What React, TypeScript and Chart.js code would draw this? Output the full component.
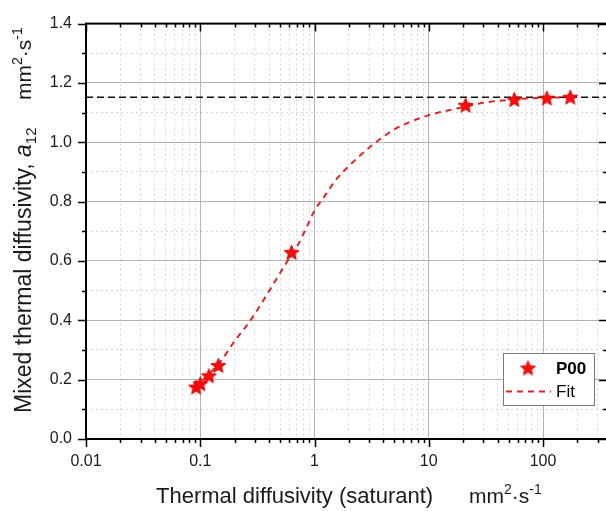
import React, { useEffect, useRef } from 'react';
import { Chart, registerables } from 'chart.js';

Chart.register(...registerables);

// ---------- data ----------
const P00_X = [0.092, 0.1, 0.119, 0.144, 0.63, 21, 56, 108, 173];
const P00_Y = [0.175, 0.186, 0.213, 0.248, 0.629, 1.125, 1.144, 1.149, 1.152];

const FIT_X = [0.09, 0.1, 0.12, 0.15, 0.2, 0.27, 0.41, 0.57, 0.7, 0.88, 1.0, 1.2, 1.5, 2.05, 3.2, 5.1, 9.6, 15, 21, 30, 50, 77, 132, 175];
const FIT_Y = [0.17, 0.19, 0.22, 0.26, 0.33, 0.395, 0.505, 0.595, 0.647, 0.725, 0.77, 0.813, 0.868, 0.924, 0.99, 1.045, 1.089, 1.108, 1.12, 1.133, 1.143, 1.148, 1.151, 1.152];

const ASYMPTOTE_Y = 1.152;

const X_MIN = 0.01;
const X_MAX = 363;
const Y_MIN = 0;
const Y_MAX = 1.4;

const X_TICKS = [
  0.01, 0.02, 0.03, 0.04, 0.05, 0.06, 0.07, 0.08, 0.09,
  0.1, 0.2, 0.3, 0.4, 0.5, 0.6, 0.7, 0.8, 0.9,
  1, 2, 3, 4, 5, 6, 7, 8, 9,
  10, 20, 30, 40, 50, 60, 70, 80, 90,
  100, 200, 300,
];
const X_TICK_LABELS = ['0.01', '0.1', '1', '10', '100'];
const Y_TICKS = [0, 0.1, 0.2, 0.3, 0.4, 0.5, 0.6, 0.7, 0.8, 0.9, 1.0, 1.1, 1.2, 1.3, 1.4];
const Y_TICK_LABELS = ['0.0', '0.2', '0.4', '0.6', '0.8', '1.0', '1.2', '1.4'];

const SERIES_LABEL = 'P00';
const FIT_LABEL = 'Fit';

// ---------- styles ----------
const FONT = '"Liberation Sans", Arial, sans-serif';
const TEXT = '#1a1a1a';
const RED = '#ff0a0a';
const FIT_RED = '#d8262b';

const isDecade = (v: number | undefined) =>
  v !== undefined && Math.abs(Math.log10(v) - Math.round(Math.log10(v))) < 1e-6;
const isMajorY = (v: number | undefined) =>
  v !== undefined && Y_TICK_LABELS.some((l) => Math.abs(parseFloat(l) - v) < 1e-6);

function makeStar(size: number): HTMLCanvasElement {
  const c = document.createElement('canvas');
  c.width = size;
  c.height = size;
  const g = c.getContext('2d')!;
  const cx = size / 2;
  const cy = size / 2 + 0.6;
  const R = size / 2 - 0.6;
  const r = R * 0.45;
  g.beginPath();
  for (let i = 0; i < 10; i++) {
    const ang = -Math.PI / 2 + (i * Math.PI) / 5;
    const rad = i % 2 === 0 ? R : r;
    const px = cx + rad * Math.cos(ang);
    const py = cy + rad * Math.sin(ang);
    if (i === 0) g.moveTo(px, py);
    else g.lineTo(px, py);
  }
  g.closePath();
  g.fillStyle = RED;
  g.fill();
  g.lineWidth = 0.8;
  g.strokeStyle = '#c00000';
  g.stroke();
  return c;
}

type Seg = { t: string; font: string; dy?: number };
function drawRich(ctx: CanvasRenderingContext2D, segs: Seg[], x: number, y: number) {
  let cx = x;
  for (const s of segs) {
    ctx.font = s.font;
    ctx.fillText(s.t, cx, y + (s.dy || 0));
    cx += ctx.measureText(s.t).width;
  }
}

export default function App() {
  const ref = useRef<HTMLCanvasElement>(null);

  useEffect(() => {
    document.body.style.margin = '0';
    const canvas = ref.current;
    if (!canvas) return;
    const star = makeStar(17);

    const U = `21px ${FONT}`;
    const US = `14px ${FONT}`;
    const unitSegs: Seg[] = [
      { t: 'mm', font: U },
      { t: '2', font: US, dy: -9 },
      { t: '·s', font: U },
      { t: '-1', font: US, dy: -9 },
    ];

    const decor = {
      id: 'decor',
      afterDraw(chart: any) {
        const ctx: CanvasRenderingContext2D = chart.ctx;
        const { left, right, top, bottom } = chart.chartArea;
        const xs = chart.scales.x;
        const ys = chart.scales.y;
        ctx.save();
        // frame
        ctx.strokeStyle = '#000';
        ctx.lineWidth = 2;
        ctx.strokeRect(left, top, right - left, bottom - top);
        // ticks
        ctx.lineWidth = 1.5;
        ctx.beginPath();
        for (const v of X_TICKS) {
          const px = Math.round(xs.getPixelForValue(v)) + 0.5;
          const len = isDecade(v) ? 8 : 4;
          ctx.moveTo(px, bottom);
          ctx.lineTo(px, bottom + len);
          ctx.moveTo(px, top);
          ctx.lineTo(px, top + len);
        }
        for (const v of Y_TICKS) {
          const py = Math.round(ys.getPixelForValue(v)) + 0.5;
          const len = isMajorY(v) ? 8 : 4;
          ctx.moveTo(left - len, py);
          ctx.lineTo(left, py);
          ctx.moveTo(right - len, py);
          ctx.lineTo(right, py);
        }
        ctx.stroke();

        // axis titles
        ctx.fillStyle = TEXT;
        ctx.textBaseline = 'alphabetic';
        ctx.textAlign = 'left';
        drawRich(ctx, [{ t: 'Thermal diffusivity (saturant)', font: `22px ${FONT}` }], 156, 503);
        drawRich(ctx, unitSegs, 469, 503);

        ctx.save();
        ctx.translate(31, 413);
        ctx.rotate(-Math.PI / 2);
        drawRich(ctx, [
          { t: 'Mixed thermal diffusivity, ', font: `23px ${FONT}` },
          { t: 'a', font: `italic 23px ${FONT}` },
          { t: '12', font: `15px ${FONT}`, dy: 5 },
        ], 0, 0);
        ctx.restore();
        ctx.save();
        ctx.translate(31, 100);
        ctx.rotate(-Math.PI / 2);
        drawRich(ctx, unitSegs, 0, 0);
        ctx.restore();

        // legend
        const lx = 503, ly = 353, lw = 91, lh = 52;
        ctx.fillStyle = '#ffffff';
        ctx.fillRect(lx, ly, lw, lh);
        ctx.strokeStyle = '#7a7a7a';
        ctx.lineWidth = 1;
        ctx.strokeRect(lx + 0.5, ly + 0.5, lw, lh);
        ctx.drawImage(star, 528 - star.width / 2, 368 - star.height / 2);
        ctx.fillStyle = '#000';
        ctx.textBaseline = 'middle';
        ctx.font = `bold 17px ${FONT}`;
        ctx.fillText(SERIES_LABEL, 556, 369);
        ctx.font = `17px ${FONT}`;
        ctx.fillText(FIT_LABEL, 556, 392);
        ctx.strokeStyle = FIT_RED;
        ctx.lineWidth = 2;
        ctx.setLineDash([6, 5]);
        ctx.beginPath();
        ctx.moveTo(506, 391.5);
        ctx.lineTo(551, 391.5);
        ctx.stroke();
        ctx.setLineDash([]);
        ctx.restore();
      },
    };

    const chart = new Chart(canvas, {
      type: 'scatter',
      data: {
        datasets: [
          {
            label: SERIES_LABEL,
            data: P00_X.map((x, i) => ({ x, y: P00_Y[i] })),
            pointStyle: star as any,
            pointRadius: 8,
            pointHoverRadius: 8,
            showLine: false,
            backgroundColor: RED,
            borderColor: RED,
          },
          {
            label: FIT_LABEL,
            data: FIT_X.map((x, i) => ({ x, y: FIT_Y[i] })),
            showLine: true,
            borderColor: FIT_RED,
            borderWidth: 2,
            borderDash: [6, 5],
            pointRadius: 0,
            cubicInterpolationMode: 'monotone',
            fill: false,
          },
          {
            label: 'asymptote',
            data: [{ x: X_MIN, y: ASYMPTOTE_Y }, { x: X_MAX, y: ASYMPTOTE_Y }],
            showLine: true,
            borderColor: '#111',
            borderWidth: 1.5,
            borderDash: [7, 4],
            pointRadius: 0,
            fill: false,
          },
        ],
      },
      options: {
        animation: false,
        responsive: false,
        devicePixelRatio: 1,
        layout: { padding: { left: 0, right: 13, top: 16, bottom: 0 } },
        plugins: { legend: { display: false }, tooltip: { enabled: false } },
        scales: {
          x: {
            type: 'logarithmic',
            min: X_MIN,
            max: X_MAX,
            afterBuildTicks: (scale: any) => {
              scale.ticks = X_TICKS.map((v) => ({ value: v, major: isDecade(v) }));
            },
            afterFit: (scale: any) => {
              scale.height = 72;
            },
            ticks: {
              autoSkip: false,
              maxRotation: 0,
              minRotation: 0,
              padding: 13,
              color: TEXT,
              font: { family: FONT, size: 16 },
              callback: (value: any) => {
                const v = Number(value);
                const l = X_TICK_LABELS.find((s) => Math.abs(Math.log10(parseFloat(s)) - Math.log10(v)) < 1e-6);
                return l ?? '';
              },
            },
            grid: {
              drawTicks: false,
              lineWidth: 1,
              color: (ctx: any) => (isDecade(ctx.tick?.value) ? '#b3b3b3' : '#d6d6d6'),
            },
            border: {
              display: false,
              dash: (ctx: any) => (ctx.tick && !isDecade(ctx.tick.value) ? [2, 3] : []),
            },
          },
          y: {
            type: 'linear',
            min: Y_MIN,
            max: Y_MAX,
            afterBuildTicks: (scale: any) => {
              scale.ticks = Y_TICKS.map((v) => ({ value: v }));
            },
            afterFit: (scale: any) => {
              scale.width = 86;
            },
            ticks: {
              autoSkip: false,
              padding: 14,
              color: TEXT,
              font: { family: FONT, size: 16 },
              callback: (value: any) => {
                const v = Number(value);
                const l = Y_TICK_LABELS.find((s) => Math.abs(parseFloat(s) - v) < 1e-6);
                return l ?? '';
              },
            },
            grid: {
              drawTicks: false,
              lineWidth: 1,
              color: (ctx: any) => (isMajorY(ctx.tick?.value) ? '#b3b3b3' : '#d6d6d6'),
            },
            border: {
              display: false,
              dash: (ctx: any) => (ctx.tick && !isMajorY(ctx.tick.value) ? [2, 3] : []),
            },
          },
        },
      },
      plugins: [decor],
    } as any);

    return () => chart.destroy();
  }, []);

  return (
    <div
      style={{
        position: 'fixed',
        left: 0,
        top: 0,
        width: 606,
        height: 511,
        overflow: 'hidden',
        background: '#fff',
      }}
    >
      <canvas ref={ref} width={620} height={511} style={{ display: 'block', width: 620, height: 511 }} />
    </div>
  );
}
